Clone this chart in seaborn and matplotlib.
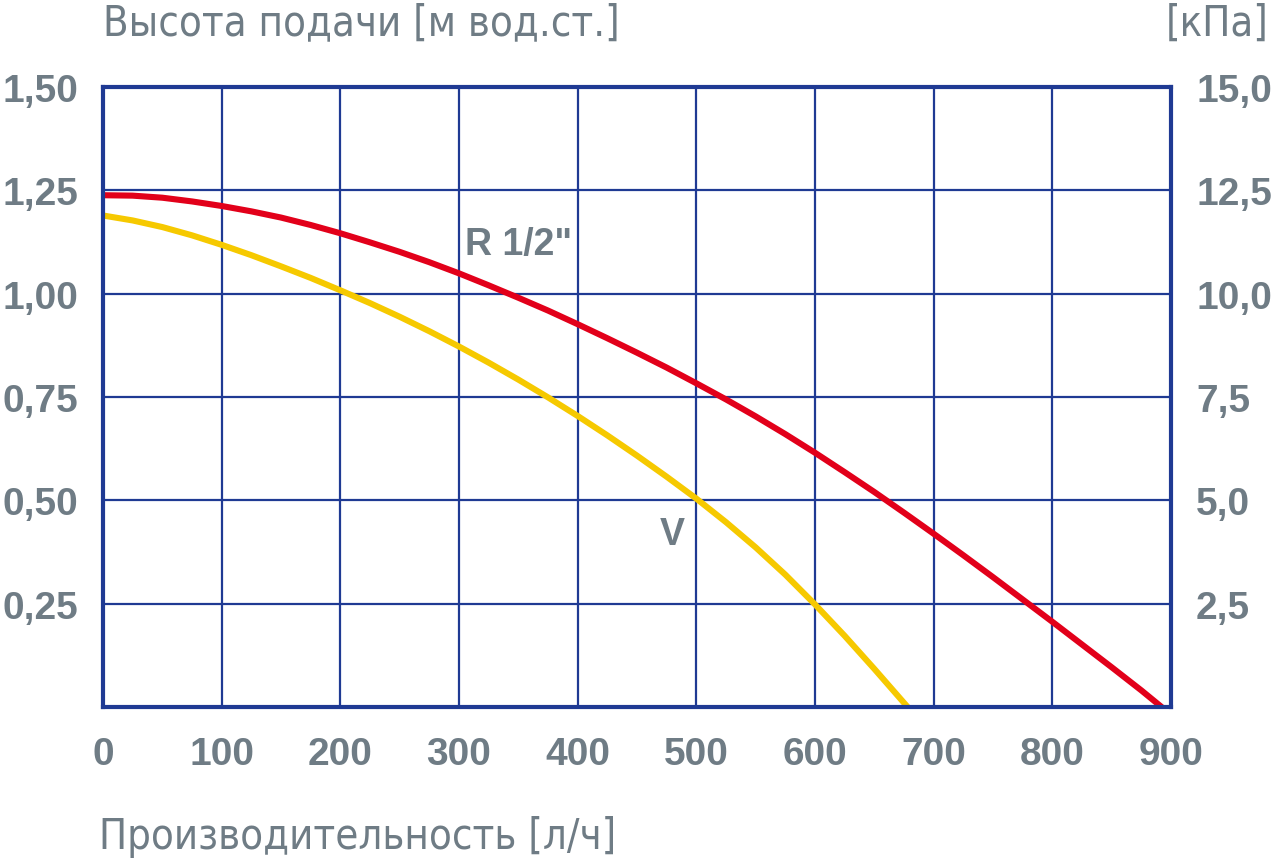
import seaborn as sns
import matplotlib.pyplot as plt
import pandas as pd

# flow [l/h] vs head [m water column]
flow_r = [0, 25, 50, 75, 100, 125, 150, 175, 200, 225, 250, 275, 300, 325, 350, 375, 400, 425,
          450, 475, 500, 525, 550, 575, 600, 625, 650, 675, 700, 725, 750, 775, 800, 825, 850, 875, 892]
head_r = [1.238, 1.237, 1.232, 1.223, 1.212, 1.199, 1.184, 1.166, 1.146, 1.124, 1.101, 1.076, 1.049,
          1.020, 0.990, 0.959, 0.926, 0.892, 0.857, 0.821, 0.783, 0.744, 0.703, 0.660, 0.615, 0.568,
          0.520, 0.470, 0.419, 0.367, 0.314, 0.260, 0.206, 0.151, 0.096, 0.040, 0.0]
flow_v = [0, 25, 50, 75, 100, 125, 150, 175, 200, 225, 250, 275, 300, 325, 350, 375, 400, 425,
          450, 475, 500, 525, 550, 575, 600, 625, 650, 678]
head_v = [1.189, 1.177, 1.161, 1.141, 1.118, 1.093, 1.066, 1.038, 1.008, 0.977, 0.944, 0.909, 0.872,
          0.833, 0.792, 0.749, 0.704, 0.657, 0.608, 0.557, 0.504, 0.447, 0.386, 0.320, 0.248, 0.172,
          0.092, 0.0]

x_ticks = [0, 100, 200, 300, 400, 500, 600, 700, 800, 900]
y_ticks = [0.25, 0.50, 0.75, 1.00, 1.25, 1.50]
kpa_ticks = [2.5, 5.0, 7.5, 10.0, 12.5, 15.0]

grey = '#6f7c85'
navy = '#1f3a93'
red = '#e2001a'
yellow = '#f6c900'
bold_font = ['Liberation Sans', 'DejaVu Sans']

df = pd.concat([
    pd.DataFrame({'flow': flow_r, 'head': head_r, 'curve': 'R 1/2"'}),
    pd.DataFrame({'flow': flow_v, 'head': head_v, 'curve': 'V'}),
])

sns.set_style('white')
plt.rcParams['font.family'] = ['DejaVu Sans']
plt.rcParams['font.stretch'] = 'condensed'

fig = plt.figure(figsize=(12.74, 8.62), dpi=100)
ax = fig.add_axes([0.0808, 0.1787, 0.8384, 0.7193])

ax.grid(True, color=navy, lw=1.6)
ax.set_axisbelow(True)
sns.lineplot(data=df, x='flow', y='head', hue='curve', palette=[red, yellow],
             lw=4.4, legend=False, ax=ax, zorder=3, sort=False)

ax.set_xlim(0, 900)
ax.set_ylim(0, 1.5)
ax.set_xticks(x_ticks)
ax.set_yticks(y_ticks)
ax.set_xticklabels([str(v) for v in x_ticks])
ax.set_yticklabels([f'{v:.2f}'.replace('.', ',') for v in y_ticks])
ax.set_xlabel('')
ax.set_ylabel('')
ax.tick_params(axis='y', length=0, labelsize=28, labelcolor=grey, pad=18)
ax.tick_params(axis='x', length=0, labelsize=28, labelcolor=grey, pad=21)
for lab in ax.get_xticklabels() + ax.get_yticklabels():
    lab.set_fontweight('bold')
    lab.set_family(bold_font)
for s in ax.spines.values():
    s.set_color(navy)
    s.set_linewidth(3)
    s.set_zorder(4)

ax2 = ax.twinx()
ax2.set_ylim(0, 15)
ax2.set_yticks(kpa_ticks)
ax2.set_yticklabels([f'{v:.1f}'.replace('.', ',') for v in kpa_ticks])
ax2.tick_params(length=0, labelsize=28, labelcolor=grey, pad=18)
for lab in ax2.get_yticklabels():
    lab.set_fontweight('bold')
    lab.set_family(bold_font)
for s in ax2.spines.values():
    s.set_visible(False)

ax.text(305, 1.12, 'R 1/2"', color=grey, fontsize=27, fontweight='bold', family=bold_font,
        va='center', ha='left')
ax.text(480, 0.418, 'V', color=grey, fontsize=27, fontweight='bold', family=bold_font,
        va='center', ha='center')

fig.text(0.081, 0.973, 'Высота подачи [м вод.ст.]', color=grey, fontsize=30,
         va='center', ha='left')
fig.text(0.996, 0.973, '[кПа]', color=grey, fontsize=30, va='center', ha='right')
fig.text(0.078, 0.029, 'Производительность [л/ч]', color=grey, fontsize=30,
         va='center', ha='left')

fig.savefig('out.png', dpi=100)
